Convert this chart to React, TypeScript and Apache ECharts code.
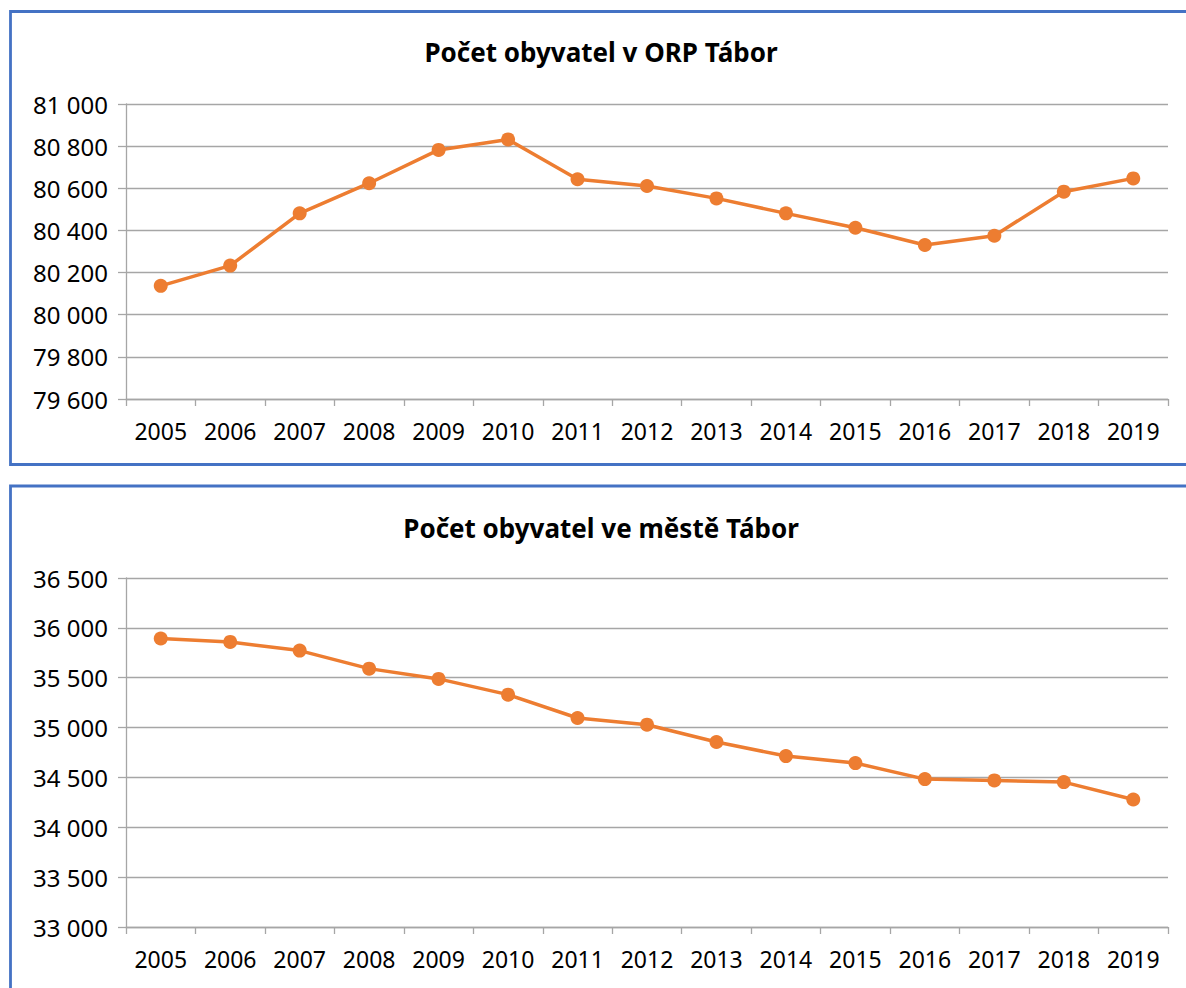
import React, { useEffect, useRef } from "react";
import * as echarts from "echarts";

const years = ["2005", "2006", "2007", "2008", "2009", "2010", "2011", "2012", "2013", "2014", "2015", "2016", "2017", "2018", "2019"];
const orpValues = [80137, 80233, 80481, 80624, 80782, 80832, 80643, 80611, 80552, 80481, 80413, 80331, 80375, 80584, 80647];
const cityValues = [35893, 35859, 35772, 35591, 35488, 35330, 35096, 35029, 34855, 34714, 34644, 34483, 34470, 34453, 34279];
const titles = ["Počet obyvatel v ORP Tábor", "Počet obyvatel ve městě Tábor"];

const FONT = "'Noto Sans', 'Open Sans', sans-serif";
const GRID_COLOR = "#A6A6A6";
const LINE_COLOR = "#ED7D31";
const BORDER_COLOR = "#4472C4";

const fmt = (v: number) => {
  const s = Math.round(v).toString();
  return s.replace(/\B(?=(\d{3})+(?!\d))/g, " ");
};

export default function App() {
  const ref = useRef<HTMLDivElement>(null);
  useEffect(() => {
    if (!ref.current) return;
    const chart = echarts.init(ref.current, undefined, { renderer: "svg" });
    const xAxisBase = (gridIndex: number) => ({
      type: "category" as const,
      gridIndex,
      data: years,
      boundaryGap: true,
      axisLine: { show: true, lineStyle: { color: GRID_COLOR, width: 1.3 } },
      axisTick: { show: true, alignWithLabel: false, length: 7, lineStyle: { color: GRID_COLOR, width: 1.3 } },
      axisLabel: { color: "#000", fontFamily: FONT, fontSize: 23, margin: 20 },
      splitLine: { show: false },
    });
    const yAxisBase = (gridIndex: number, min: number, max: number, interval: number) => ({
      type: "value" as const,
      gridIndex,
      min,
      max,
      interval,
      axisLine: { show: true, lineStyle: { color: GRID_COLOR, width: 1.3 } },
      axisTick: { show: true, length: 8, lineStyle: { color: GRID_COLOR, width: 1.3 } },
      axisLabel: { color: "#000", fontFamily: FONT, fontSize: 24, margin: 18, formatter: (v: number) => fmt(v) },
      splitLine: { show: true, lineStyle: { color: GRID_COLOR, width: 1.3 } },
    });
    const seriesBase = (idx: number, data: number[]) => ({
      type: "line" as const,
      xAxisIndex: idx,
      yAxisIndex: idx,
      data,
      symbol: "circle",
      symbolSize: 14,
      lineStyle: { color: LINE_COLOR, width: 3.5 },
      itemStyle: { color: LINE_COLOR },
      emphasis: { disabled: true },
    });
    chart.setOption({
      animation: false,
      backgroundColor: "#fff",
      grid: [
        { left: 126, right: 18, top: 104, height: 295 },
        { left: 126, right: 18, top: 578, height: 349 },
      ],
      xAxis: [xAxisBase(0), xAxisBase(1)],
      yAxis: [yAxisBase(0, 79600, 81000, 200), yAxisBase(1, 33000, 36500, 500)],
      series: [seriesBase(0, orpValues), seriesBase(1, cityValues)],
      graphic: [
        {
          type: "rect",
          shape: { x: 10.5, y: 11.5, width: 1200, height: 453 },
          style: { fill: "none", stroke: BORDER_COLOR, lineWidth: 2.8 },
          silent: true,
        },
        {
          type: "rect",
          shape: { x: 10.5, y: 486, width: 1200, height: 600 },
          style: { fill: "none", stroke: BORDER_COLOR, lineWidth: 2.8 },
          silent: true,
        },
        {
          type: "text",
          x: 601,
          y: 52,
          style: { text: titles[0], fill: "#000", font: `bold 26px ${FONT}`, textAlign: "center", textVerticalAlign: "middle" },
          silent: true,
        },
        {
          type: "text",
          x: 601,
          y: 528,
          style: { text: titles[1], fill: "#000", font: `bold 26px ${FONT}`, textAlign: "center", textVerticalAlign: "middle" },
          silent: true,
        },
      ],
    });
    return () => chart.dispose();
  }, []);
  return <div ref={ref} style={{ position: "fixed", left: 0, top: 0, width: 1186, height: 988 }} />;
}
